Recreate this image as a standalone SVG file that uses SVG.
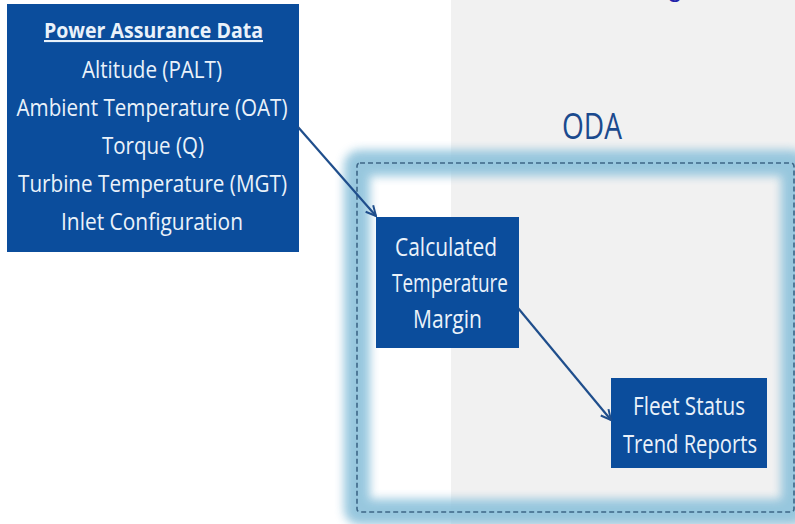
<svg xmlns="http://www.w3.org/2000/svg" width="795" height="524" viewBox="0 0 795 524">
<defs>
<style>
.box{fill:#0b4d9c;}
.t{font-family:"Open Sans","Liberation Sans",sans-serif;fill:#eaf2fa;text-anchor:middle;}
.conn{stroke:#1f4e8c;stroke-width:2.2;fill:none;marker-end:url(#arr);}
</style>
<marker id="arr" viewBox="0 0 12 12" refX="11" refY="6" markerWidth="12" markerHeight="12" markerUnits="userSpaceOnUse" orient="auto">
<path d="M1,1 L11,6 L1,11" fill="none" stroke="#1f4e8c" stroke-width="2"/>
</marker>
<filter id="blur" x="-10%" y="-10%" width="120%" height="120%">
<feGaussianBlur stdDeviation="5"/>
</filter>
</defs>
<rect x="0" y="0" width="795" height="524" fill="#ffffff"/>
<rect x="451" y="0" width="344" height="524" fill="#f1f1f1"/>
<text x="667" y="-4" font-family="Liberation Sans,sans-serif" font-size="28" fill="#2323aa">g</text>
<g id="oda-frame">
<rect x="357" y="163" width="437" height="349" rx="3" fill="none" stroke="#93c5dd" stroke-width="26" filter="url(#blur)" opacity="0.95"/>
<rect x="357" y="163" width="437" height="349" rx="3" fill="none" stroke="#3e6787" stroke-width="1.6" stroke-dasharray="5,3"/>
<text x="592" y="139" font-family="Open Sans,Liberation Sans,sans-serif" font-size="37" fill="#1b4a8e" text-anchor="middle" textLength="60" lengthAdjust="spacingAndGlyphs">ODA</text>
</g>
<g id="power-assurance-data">
<rect class="box" x="7" y="4" width="292" height="248"/>
<text class="t" x="153.5" y="38" font-size="21" font-weight="bold" text-decoration="underline" textLength="219" lengthAdjust="spacingAndGlyphs">Power Assurance Data</text>
<text class="t" x="152" y="78" font-size="24" textLength="140" lengthAdjust="spacingAndGlyphs">Altitude (PALT)</text>
<text class="t" x="152" y="116" font-size="24" textLength="271" lengthAdjust="spacingAndGlyphs">Ambient Temperature (OAT)</text>
<text class="t" x="153" y="154" font-size="24" textLength="102" lengthAdjust="spacingAndGlyphs">Torque (Q)</text>
<text class="t" x="152.5" y="192" font-size="24" textLength="269" lengthAdjust="spacingAndGlyphs">Turbine Temperature (MGT)</text>
<text class="t" x="152" y="230" font-size="24" textLength="182" lengthAdjust="spacingAndGlyphs">Inlet Configuration</text>
</g>
<g id="calculated-temperature-margin">
<rect class="box" x="376" y="217" width="143" height="131"/>
<text class="t" x="446" y="256" font-size="26" textLength="102" lengthAdjust="spacingAndGlyphs">Calculated</text>
<text class="t" x="450" y="292" font-size="26" textLength="116" lengthAdjust="spacingAndGlyphs">Temperature</text>
<text class="t" x="447.5" y="328" font-size="26" textLength="69" lengthAdjust="spacingAndGlyphs">Margin</text>
</g>
<g id="fleet-status-trend-reports">
<rect class="box" x="611" y="378" width="156" height="90"/>
<text class="t" x="689" y="415" font-size="26" textLength="112" lengthAdjust="spacingAndGlyphs">Fleet Status</text>
<text class="t" x="690" y="453" font-size="26" textLength="134" lengthAdjust="spacingAndGlyphs">Trend Reports</text>
</g>
<g id="connectors">
<line class="conn" x1="298" y1="127" x2="376" y2="216"/>
<line class="conn" x1="518" y1="308" x2="611" y2="420"/>
</g>
</svg>
